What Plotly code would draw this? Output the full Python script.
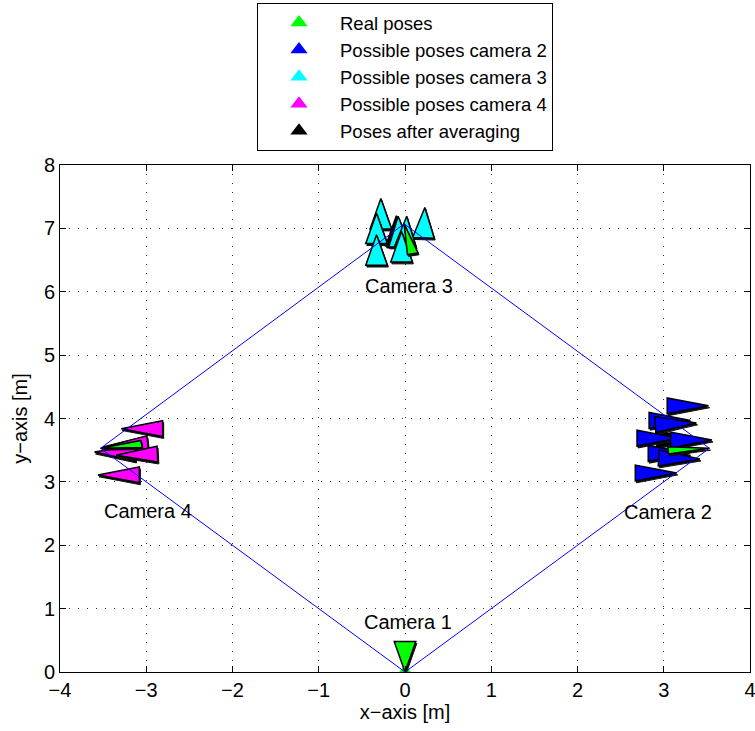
import numpy as np
import plotly.graph_objects as go

# Ground-truth camera poses: camera centre [m], viewing direction [deg], roll [deg]
real_x = [0.00, 3.53, -0.01, -3.53]
real_y = [0.00, 3.53, 7.07, 3.53]
real_heading = [90, 184, 282, 8]
real_roll = [0, 63, 60, 63]

# Pose hypotheses for camera 2
cam2_x = [3.52, 3.31, 3.38, 3.17, 3.56, 3.30, 3.42, 3.15]
cam2_y = [4.20, 3.97, 3.93, 3.69, 3.66, 3.45, 3.36, 3.14]
cam2_heading = [180, 180, 183, 180, 180, 180, 178, 180]

# Pose hypotheses for camera 3
cam3_x = [-0.28, -0.33, -0.33, 0.23, -0.08, 0.02, -0.04]
cam3_y = [7.47, 7.24, 6.90, 7.33, 7.19, 7.19, 6.95]
cam3_heading = [270, 270, 270, 268, 272, 268, 270]

# Pose hypotheses for camera 4
cam4_x = [-3.29, -3.46, -3.60, -3.35, -3.56]
cam4_y = [3.84, 3.56, 3.47, 3.42, 3.11]
cam4_heading = [0, 5, -2, 2, 0]

# Averaged poses for cameras 2, 3 and 4
avg_x = [3.40, -0.10, -3.50]
avg_y = [3.68, 7.20, 3.55]
avg_heading = [180, 270, 4]

camera_labels = ["Camera 1", "Camera 2", "Camera 3", "Camera 4"]

# Camera glyph: isosceles triangle, apex at the camera centre, base along the viewing direction
TRI_LEN = 0.48
TRI_HALF = 0.125
SHADOW = (0.012, -0.03)

GREEN = "#00ff00"
BLUE = "#0000ff"
CYAN = "#00ffff"
MAGENTA = "#ff00ff"
BLACK = "#000000"


def triangle(x, y, heading, roll=0.0):
    t = np.radians(heading)
    half = TRI_HALF * np.cos(np.radians(roll))
    cx, cy = x + TRI_LEN * np.cos(t), y + TRI_LEN * np.sin(t)
    nx, ny = -np.sin(t), np.cos(t)
    xs = [x, cx + half * nx, cx - half * nx, x]
    ys = [y, cy + half * ny, cy - half * ny, y]
    return xs, ys


fig = go.Figure()

# legend entries (the green marker also marks the reference camera at the origin)
fig.add_trace(go.Scatter(x=[real_x[0]], y=[real_y[0]], mode="markers", name="Real poses",
                         marker=dict(symbol="triangle-up", size=15, color=GREEN),
                         hoverinfo="skip"))
for name, col in [("Possible poses camera 2", BLUE), ("Possible poses camera 3", CYAN),
                  ("Possible poses camera 4", MAGENTA), ("Poses after averaging", BLACK)]:
    fig.add_trace(go.Scatter(x=[None], y=[None], mode="markers", name=name,
                             marker=dict(symbol="triangle-up", size=15, color=col)))


def add_pose(x, y, heading, color, roll=0.0):
    xs, ys = triangle(x, y, heading, roll)
    fig.add_trace(go.Scatter(x=[v + SHADOW[0] for v in xs], y=[v + SHADOW[1] for v in ys],
                             mode="lines", fill="toself", fillcolor="#111111",
                             line=dict(color="#111111", width=1),
                             showlegend=False, hoverinfo="skip"))
    fig.add_trace(go.Scatter(x=xs, y=ys, mode="lines", fill="toself", fillcolor=color,
                             line=dict(color=BLACK, width=1.5),
                             showlegend=False, hoverinfo="skip"))


for x, y, h in zip(avg_x, avg_y, avg_heading):
    add_pose(x, y, h, BLACK)
for xs, ys, hs, col in [(cam2_x, cam2_y, cam2_heading, BLUE),
                        (cam3_x, cam3_y, cam3_heading, CYAN),
                        (cam4_x, cam4_y, cam4_heading, MAGENTA)]:
    for x, y, h in zip(xs, ys, hs):
        add_pose(x, y, h, col)
for x, y, h, r in zip(real_x, real_y, real_heading, real_roll):
    add_pose(x, y, h, GREEN, r)

# connections between neighbouring cameras
fig.add_trace(go.Scatter(x=real_x + [real_x[0]], y=real_y + [real_y[0]], mode="lines",
                         line=dict(color=BLUE, width=1), showlegend=False, hoverinfo="skip"))

# camera names
label_pos = [(0.03, 0.79), (3.05, 2.53), (0.05, 6.09), (-2.98, 2.54)]
for text, (lx, ly) in zip(camera_labels, label_pos):
    fig.add_annotation(x=lx, y=ly, text=text, showarrow=False,
                       font=dict(size=20, color="black"), xanchor="center", yanchor="middle")

axis_style = dict(
    dtick=1, showgrid=True, gridcolor="#333333", gridwidth=1, griddash="1px,8px",
    showline=True, linecolor="black", linewidth=1, mirror="allticks",
    ticks="inside", ticklen=6, tickcolor="black", zeroline=False,
    ticklabeloverflow="allow", automargin=False,
    tickfont=dict(size=20, color="black"),
)
fig.update_xaxes(range=[-4, 4], title=dict(text="x−axis [m]", font=dict(size=20), standoff=4),
                 **axis_style)
fig.update_yaxes(range=[0, 8], title=dict(text="y−axis [m]", font=dict(size=20), standoff=10),
                 **axis_style)

fig.update_layout(
    width=755, height=731,
    margin=dict(l=60, r=5, t=165, b=59, autoexpand=False),
    paper_bgcolor="white", plot_bgcolor="white",
    font=dict(family="Liberation Sans, Arial, Helvetica, sans-serif", size=20, color="black"),
    showlegend=True,
    legend=dict(x=0.5, xanchor="center", y=1.3195, yanchor="top",
                bordercolor="black", borderwidth=1, bgcolor="white",
                font=dict(size=18.5), itemwidth=72, tracegroupgap=0),
)

fig.write_html("out.html")
